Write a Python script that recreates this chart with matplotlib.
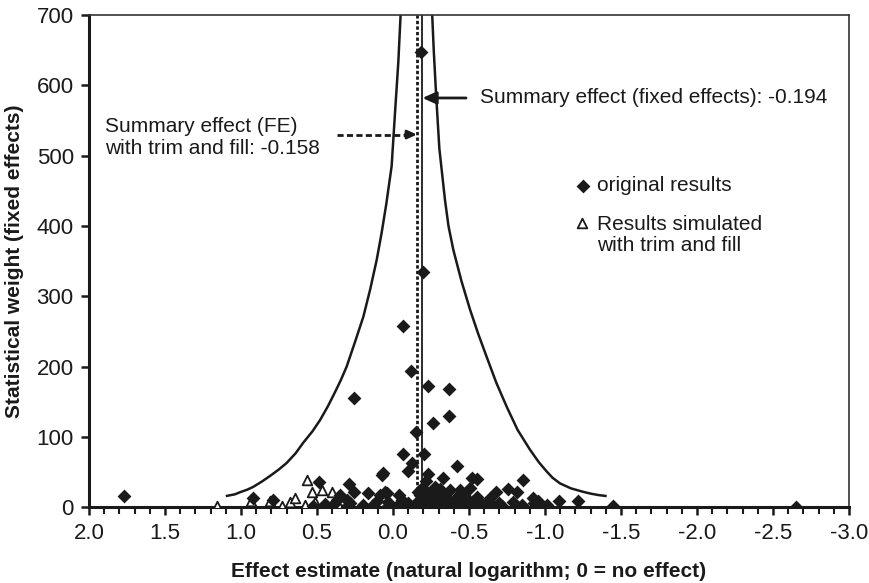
import numpy as np
import matplotlib.pyplot as plt
from matplotlib.ticker import MultipleLocator, FormatStrFormatter

plt.rcParams['font.family'] = ['Liberation Sans', 'DejaVu Sans']
plt.rcParams['axes.unicode_minus'] = False

# Summary estimates (log scale)
fe_summary = -0.194
fe_trimfill = -0.158

# Pseudo confidence funnel, read as points along each branch
left_x = [1.10, 1.04, 1.00, 0.96, 0.92, 0.86, 0.80, 0.75, 0.70, 0.64, 0.59, 0.53,
          0.48, 0.43, 0.39, 0.345, 0.305, 0.25, 0.195, 0.15, 0.107, 0.075, 0.045,
          0.009, -0.013, -0.035, -0.050]
left_y = [16, 18.5, 22, 25, 29, 37, 46, 54, 63, 77, 92, 108,
          124, 143, 160, 180, 200, 235, 271, 310, 352, 390, 430,
          485, 560, 633, 700]
right_x = [-1.406, -1.35, -1.30, -1.252, -1.17, -1.099, -1.05, -1.011, -0.96, -0.901,
           -0.82, -0.748, -0.68, -0.616, -0.56, -0.507, -0.45, -0.397, -0.365,
           -0.342, -0.305, -0.283, -0.268, -0.258]
right_y = [16, 17.5, 19.5, 22, 27, 34, 42, 51, 64, 82,
           110, 143, 177, 214, 247, 281, 322, 366, 400,
           437, 510, 589, 650, 700]

# Original study results: effect estimate and fixed-effect weight
orig_x = [-0.182, -0.200, -0.068, -0.118, 0.255, -0.228, -0.371, -0.371, -0.261,
          -0.151, -0.064, -0.206, -0.127, -0.100, -0.228, 0.070, 0.068, -0.419,
          0.287, 0.255, 0.162, 0.490, 0.919, 0.787, 1.770,
          0.524, 0.450, 0.393, 0.370, 0.350, 0.305, 0.305, 0.280, 0.200, 0.130,
          0.107, 0.086, 0.041, 0.031, 0.041, 0.053, -0.039, -0.057, -0.057,
          -0.100, -0.151, -0.167, -0.189, -0.189, -0.035,
          -0.276, -0.306, -0.375, -0.441, -0.507, -0.331, -0.518, -0.555, -0.853,
          -0.678, -0.759, -0.818, -0.283, -0.360, -0.397, -0.460, -0.520, -0.570,
          -0.638, -0.700, -0.787, -0.923, -0.955, -1.011, -1.094, -1.219,
          -0.200, -0.310, -0.380, -0.440, -0.500, -0.540, -0.590, -0.720, -0.850,
          -1.010, -1.445, -2.650, -0.230, -0.250, -0.300, -0.340, -0.420, -0.470,
          -0.490, -0.550, -0.610, -0.660, -0.250, -0.270, -0.340, -0.430, -0.480,
          -0.930, -0.970, -0.215, -0.180]
orig_y = [647, 334, 258, 194, 155, 172, 168, 130, 120,
          107, 76, 76, 63, 52, 48, 46, 49, 59,
          33, 22, 21, 36, 13, 11, 16,
          2, 5, 3, 10, 17, 10, 0, 6, 3, 4,
          9, 17, 20, 8, 1, 22, 17, 10, 1,
          6, 6, 22, 28, 10, 4,
          29, 26, 24, 25, 27, 41, 41, 40, 39,
          22, 26, 22, 13, 10, 8, 10, 8, 8,
          13, 6, 8, 13, 9, 3, 9, 9,
          5, 4, 3, 2, 1, 3, 2, 2, 3,
          1, 2, 0, 20, 16, 18, 14, 15, 18,
          12, 14, 5, 4, 7, 2, 7, 5, 5,
          6, 4, 38, 18]

# Studies imputed by trim and fill
fill_x = [1.160, 0.936, 0.809, 0.732, 0.678, 0.645, 0.568, 0.535, 0.469,
          0.579, 0.513, 0.447, 0.403, 0.370, 0.410, 0.330, 0.360]
fill_y = [2, 9, 9, 2, 8, 13, 39, 22, 25,
          4, 8, 3, 22, 13, 2, 10, 5]

fig = plt.figure(figsize=(8.69, 5.83), dpi=100)
ax = fig.add_axes([0.1024, 0.1298, 0.8746, 0.8445])

ink = '#1a1a1a'
dia_size = 50
tri_size = 48

# funnel branches
ax.plot(left_x, left_y, color=ink, lw=1.8, solid_capstyle='butt',
        solid_joinstyle='round', zorder=2)
ax.plot(right_x, right_y, color=ink, lw=1.8, solid_capstyle='butt',
        solid_joinstyle='round', zorder=2)

# summary lines
ax.plot([fe_summary, fe_summary], [0, 700], color=ink, lw=1.3, zorder=2)
ax.plot([fe_trimfill, fe_trimfill], [0, 700], color=ink, lw=2.0,
        linestyle=(0, (1.2, 0.8)), zorder=2)

# study markers
ax.scatter(fill_x, fill_y, marker='^', s=tri_size, facecolor='white', edgecolor=ink,
           linewidth=1.3, zorder=3)
ax.scatter(orig_x, orig_y, marker='D', s=dia_size, color=ink, linewidth=0, zorder=4)

# annotations
ax.annotate('Summary effect (fixed effects): -0.194', xy=(fe_summary, 582),
            xytext=(-0.572, 582), ha='left', va='center', fontsize=15, color=ink,
            arrowprops=dict(arrowstyle='-|>,head_length=0.55,head_width=0.25',
                            color=ink, lw=2.0, shrinkA=8, shrinkB=0))
ax.text(1.895, 526, 'Summary effect (FE)\nwith trim and fill: -0.158', ha='left',
        va='center', fontsize=15, color=ink, linespacing=1.2)
ax.plot([0.37, -0.09], [530, 530], color=ink, lw=2.0, linestyle=(0, (2.2, 1.2)),
        zorder=2)
ax.annotate('', xy=(fe_trimfill, 530), xytext=(-0.08, 530),
            arrowprops=dict(arrowstyle='-|>,head_length=0.55,head_width=0.25',
                            color=ink, lw=2.0, shrinkA=0, shrinkB=0))

# legend drawn as markers and text in axes coordinates
ax.scatter([0.6504], [0.6527], marker='D', s=dia_size, color=ink, linewidth=0,
           transform=ax.transAxes, clip_on=False)
ax.scatter([0.649], [0.578], marker='^', s=tri_size, facecolor='white', edgecolor=ink,
           linewidth=1.3, transform=ax.transAxes, clip_on=False)
ax.text(0.668, 0.6527, 'original results', transform=ax.transAxes, ha='left',
        va='center', fontsize=15, color=ink)
ax.text(0.668, 0.5537, 'Results simulated\nwith trim and fill', transform=ax.transAxes,
        ha='left', va='center', fontsize=15, color=ink, linespacing=1.15)

# axes
ax.set_xlim(2.0, -3.0)
ax.set_ylim(0, 700)
ax.xaxis.set_major_locator(MultipleLocator(0.5))
ax.xaxis.set_minor_locator(MultipleLocator(0.1))
ax.xaxis.set_major_formatter(FormatStrFormatter('%.1f'))
ax.yaxis.set_major_locator(MultipleLocator(100))
ax.tick_params(axis='both', which='major', direction='out', length=6, width=1.8,
               labelsize=16, labelcolor=ink, color=ink, pad=5)
ax.tick_params(axis='x', which='minor', direction='out', length=5, width=1.5,
               color=ink)

for side in ['left', 'bottom']:
    ax.spines[side].set_linewidth(2.2)
    ax.spines[side].set_color(ink)
for side in ['top', 'right']:
    ax.spines[side].set_linewidth(1.2)
    ax.spines[side].set_color('#333333')

ax.set_xlabel('Effect estimate (natural logarithm; 0 = no effect)', fontsize=15,
              fontweight='bold', color=ink, labelpad=13)
ax.set_ylabel('Statistical weight (fixed effects)', fontsize=15, fontweight='bold',
              color=ink, labelpad=9)

fig.savefig('out.png', dpi=100)
